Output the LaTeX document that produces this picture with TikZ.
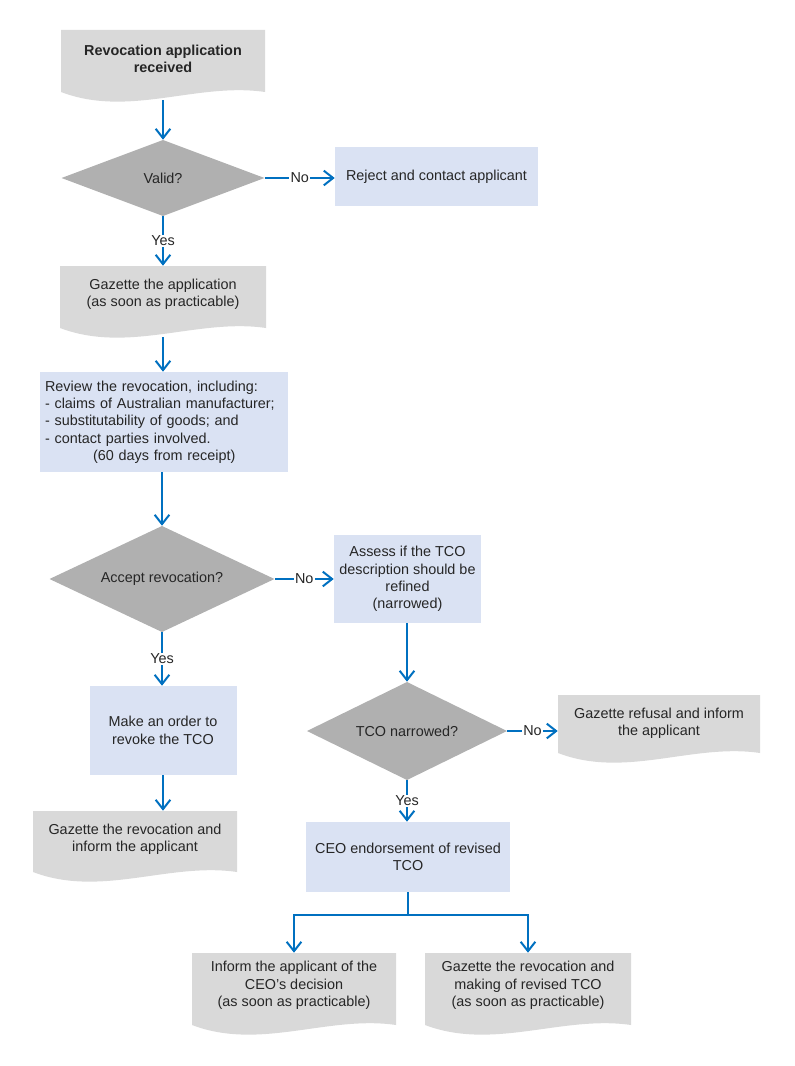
\documentclass[tikz,border=0pt]{standalone}
\usepackage{fontspec}
\setmainfont{Liberation Sans}
\usetikzlibrary{arrows.meta}
\definecolor{flowblue}{RGB}{0,112,192}
\definecolor{boxblue}{RGB}{218,226,243}
\definecolor{docgray}{RGB}{217,217,217}
\definecolor{decgray}{RGB}{176,176,176}
\definecolor{txt}{RGB}{38,38,38}
\newcommand\docfill[4]{\fill[docgray] (#1,#2) -- (#3,#2) -- (#3,#4) .. controls ({#3-(#3-#1)/3},{#4-10}) and ({#1+(#3-#1)/3},{#4+26}) .. (#1,#4) -- cycle;}
\begin{document}
\begin{tikzpicture}[x=0.75pt,y=-0.75pt,
  every node/.style={font=\fontsize{10.8}{13}\selectfont, text=txt},
  bluebox/.style={rectangle, fill=boxblue, inner sep=0pt, align=center},
  docnode/.style={rectangle, inner sep=0pt, align=center},
  decision/.style={rectangle, inner sep=0pt, align=center,
    path picture={\fill[decgray] (path picture bounding box.north) -- (path picture bounding box.east) -- (path picture bounding box.south) -- (path picture bounding box.west) -- cycle;}},
  flow/.style={draw=flowblue, line width=1.5pt, -{Straight Barb[length=7pt,width=11pt]}},
  plainline/.style={draw=flowblue, line width=1.5pt},
  lbl/.style={fill=white, inner sep=1pt}
]
\useasboundingbox (0,0) rectangle (794,1066);

% document backgrounds
\docfill{61}{30}{265}{92}
\docfill{60}{266}{266}{328}
\docfill{33}{811}{237}{872}
\docfill{558}{695}{760}{753}
\docfill{192}{953}{396}{1025}
\docfill{425}{953}{631}{1025}

% nodes
\node[docnode, minimum width=153pt, minimum height=43.5pt] (start) at (163,59) {\bfseries Revocation application\\\bfseries received};
\node[decision, minimum width=152.25pt, minimum height=57pt] (valid) at (163,178) {Valid?};
\node[bluebox, minimum width=152.25pt, minimum height=44.25pt] (reject) at (436.5,176.5) {Reject and contact applicant};
\node[docnode, minimum width=154.5pt, minimum height=42.75pt] (gazapp) at (163,294.5) {Gazette the application\\(as soon as practicable)};
\node[bluebox, minimum width=186pt, minimum height=75pt, text width=178.5pt, align=left] (review) at (164,422) {Review the revocation, including:\\- claims of Australian manufacturer;\\- substitutability of goods; and\\- contact parties involved.\\\hspace*{36pt}(60 days from receipt)};
\node[decision, minimum width=168.75pt, minimum height=79.5pt] (accept) at (162,579) {Accept revocation?};
\node[bluebox, minimum width=110.25pt, minimum height=66pt] (assess) at (407.5,579) {Assess if the TCO\\description should be\\refined\\(narrowed)};
\node[bluebox, minimum width=110.25pt, minimum height=66.75pt] (order) at (163,730.5) {Make an order to\\revoke the TCO};
\node[docnode, minimum width=153pt, minimum height=42pt] (gazrev) at (135,839) {Gazette the revocation and\\inform the applicant};
\node[decision, minimum width=150pt, minimum height=73.5pt] (tco) at (407,731) {TCO narrowed?};
\node[docnode, minimum width=151.5pt, minimum height=42.75pt] (refusal) at (659,723.5) {Gazette refusal and inform\\the applicant};
\node[bluebox, minimum width=153pt, minimum height=52.5pt] (ceo) at (408,857) {CEO endorsement of revised\\TCO};
\node[docnode, minimum width=153pt, minimum height=48.75pt] (inform) at (294,985.5) {Inform the applicant of the\\CEO’s decision\\(as soon as practicable)};
\node[docnode, minimum width=154.5pt, minimum height=48.75pt] (revised) at (528,985.5) {Gazette the revocation and\\making of revised TCO\\(as soon as practicable)};
\coordinate (split) at (408,915);

% connectors
\draw[flow, shorten <=9pt] (start.south) -- (start.south |- valid.north);
\draw[flow] (valid.east) -- node[lbl]{No} (valid.east -| reject.west);
\draw[flow] (valid.south) -- node[lbl]{Yes} (valid.south |- gazapp.north);
\draw[flow, shorten <=10.5pt] (gazapp.south) -- (gazapp.south |- review.north);
\draw[flow] (accept.north |- review.south) -- (accept.north);
\draw[flow] (accept.east) -- node[lbl]{No} (accept.east -| assess.west);
\draw[flow] (accept.south) -- node[lbl]{Yes} (accept.south |- order.north);
\draw[flow] (order.south) -- (order.south |- gazrev.north);
\draw[flow] (tco.north |- assess.south) -- (tco.north);
\draw[flow] (tco.east) -- node[lbl]{No} (tco.east -| refusal.west);
\draw[flow] (tco.south) -- node[lbl]{Yes} (tco.south |- ceo.north);
\draw[plainline] (ceo.south) -- (split);
\draw[flow] (split) -| (inform.north);
\draw[flow] (split) -| (revised.north);
\end{tikzpicture}
\end{document}
